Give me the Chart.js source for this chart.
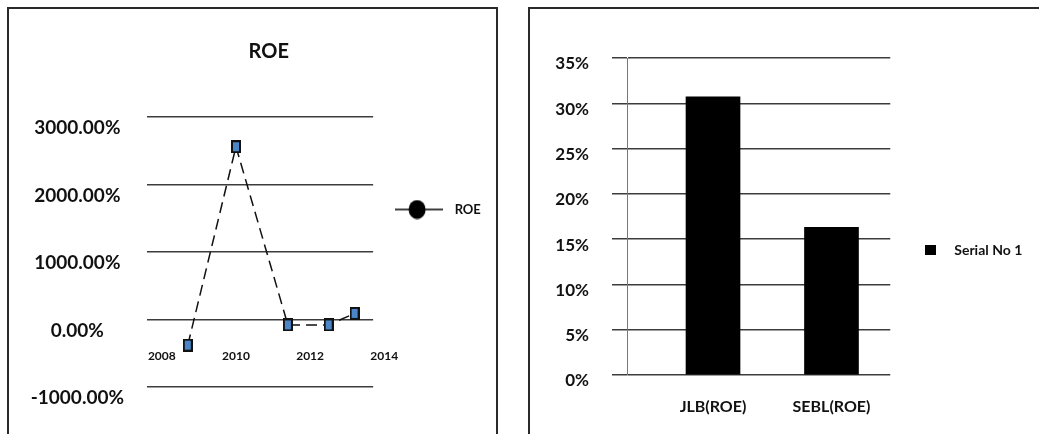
<!DOCTYPE html>
<html>
<head>
<meta charset="utf-8">
<script src="https://cdn.jsdelivr.net/npm/chart.js@4/dist/chart.umd.min.js"></script>
<style>
  html, body { margin: 0; padding: 0; background: #fff; }
  body { width: 1039px; height: 434px; overflow: hidden; position: relative; }
  .panel { position: absolute; border: 2px solid #2a2a2a; box-sizing: border-box; }
  #leftPanel { left: 7px; top: 7px; width: 491px; height: 450px; }
  #rightPanel { left: 528px; top: 7px; width: 530px; height: 450px; }
  canvas { position: absolute; }
  #roeLine { left: 8px; top: 8px; }
  #roeBar { left: 531px; top: 8px; }
</style>
</head>
<body>
<div id="leftPanel" class="panel"></div>
<div id="rightPanel" class="panel"></div>
<canvas id="roeLine" width="488" height="426"></canvas>
<canvas id="roeBar" width="506" height="434"></canvas>
<script>
// ---- left chart: ROE over the years (values in %) ----
const roeYears = [2008.7, 2010.0, 2011.4, 2012.5, 2013.2];
const roeValues = [-380, 2560, -80, -80, 90];
const yearTicks = [2008, 2010, 2012, 2014];

// ---- right chart: bank comparison (values in %) ----
const banks = ["JLB(ROE)", "SEBL(ROE)"];
const bankRoe = [30.7, 16.3];

Chart.defaults.font.family = "Lato, 'Open Sans', sans-serif";
Chart.defaults.font.weight = "bold";
Chart.defaults.color = "#111";

const gridColor = "#3c3c3c";

// little images used as point styles
function marker() {
    const c = document.createElement("canvas");
    c.width = 10; c.height = 13;
    const g = c.getContext("2d");
    g.fillStyle = "#111";
    g.fillRect(0, 0, 10, 13);
    g.fillStyle = "#4a86c8";
    g.fillRect(2, 2, 6, 9);
    return c;
}

function lineDot() {
    const c = document.createElement("canvas");
    c.width = 48; c.height = 20;
    const g = c.getContext("2d");
    g.strokeStyle = "#000";
    g.lineWidth = 1.5;
    g.beginPath();
    g.moveTo(0, 10); g.lineTo(48, 10);
    g.stroke();
    g.fillStyle = "#000";
    g.beginPath();
    g.ellipse(22, 10, 8.5, 9.5, 0, 0, Math.PI * 2);
    g.fill();
    return c;
}

function square() {
    const c = document.createElement("canvas");
    c.width = 11; c.height = 10;
    const g = c.getContext("2d");
    g.fillStyle = "#000";
    g.fillRect(0, 0, 11, 10);
    return c;
}

// y labels hang out left of the axis box and legend text got cut,
// so loosen both clip areas once layout is done
const looseClip = {
    id: "looseClip",
    afterLayout(chart) {
        chart.scales.y.left = 0;
        if (chart.legend) chart.legend.right = chart.width;
    }
};

// =========================
//  LINE CHART
// =========================
new Chart(document.getElementById("roeLine"), {
    type: "line",
    data: {
        datasets: [{
            label: "ROE",
            data: roeYears.map((y, i) => ({ x: y, y: roeValues[i] })),
            borderColor: "#111",
            borderWidth: 1.5,
            borderDash: [11, 6],
            tension: 0,
            pointStyle: marker(),
            pointRadius: 6,
            clip: false
        }]
    },
    plugins: [looseClip],
    options: {
        responsive: false,
        animation: false,
        layout: { padding: { left: 52, right: 18.5, top: 24, bottom: 47 } },
        plugins: {
            title: {
                display: true,
                text: "ROE",
                font: { size: 20, weight: "bold" },
                color: "#111",
                padding: { top: 8, bottom: 53 }
            },
            legend: {
                position: "right",
                labels: {
                    usePointStyle: true,
                    pointStyle: lineDot(),
                    pointStyleWidth: 58,
                    padding: 17,
                    font: { size: 13, weight: "bold" },
                    color: "#111"
                }
            },
            tooltip: { enabled: false }
        },
        scales: {
            x: {
                type: "linear",
                position: { y: 0 },
                min: 2007.6,
                max: 2013.7,
                afterBuildTicks: s => { s.ticks = yearTicks.map(v => ({ value: v })); },
                grid: { display: false, drawTicks: false },
                border: { display: false },
                ticks: {
                    autoSkip: false,
                    padding: 29,
                    font: { size: 12, weight: "bold" },
                    callback: v => String(v)
                }
            },
            y: {
                min: -1000,
                max: 3000,
                afterFit: s => { s.width = 87; },
                grid: { color: gridColor, lineWidth: 1.5, drawTicks: false },
                border: { display: false },
                ticks: {
                    stepSize: 1000,
                    crossAlign: "center",
                    padding: 23,
                    labelOffset: 11,
                    font: { size: 19, weight: "bold" },
                    callback: v => v.toFixed(2) + "%"
                }
            }
        }
    }
});

// =========================
//  BAR CHART
// =========================
new Chart(document.getElementById("roeBar"), {
    type: "bar",
    data: {
        datasets: [{
            label: "Serial No 1",
            data: banks.map((b, i) => ({ x: i, y: bankRoe[i] })),
            backgroundColor: "#000",
            barThickness: 54
        }]
    },
    plugins: [looseClip],
    options: {
        responsive: false,
        animation: false,
        layout: { padding: { left: 0, right: 27, top: 50, bottom: 0 } },
        plugins: {
            legend: {
                position: "right",
                labels: {
                    usePointStyle: true,
                    pointStyle: square(),
                    pointStyleWidth: 34,
                    padding: 23,
                    font: { size: 14, weight: "bold" },
                    color: "#111"
                }
            },
            tooltip: { enabled: false }
        },
        scales: {
            x: {
                type: "linear",
                offset: false,
                min: -0.726,
                max: 1.496,
                afterBuildTicks: s => { s.ticks = banks.map((b, i) => ({ value: i })); },
                afterFit: s => { s.height = 67; },
                grid: { display: false, drawTicks: false, offset: false },
                border: { display: false },
                ticks: {
                    autoSkip: false,
                    padding: 22,
                    font: { size: 16, weight: "bold" },
                    callback: v => banks[v]
                }
            },
            y: {
                min: 0,
                max: 35,
                afterFit: s => { s.width = 96; },
                grid: { color: gridColor, lineWidth: 1.5, tickLength: 15, tickColor: gridColor },
                border: { display: true, color: "#777", width: 1 },
                ticks: {
                    stepSize: 5,
                    padding: 23,
                    labelOffset: 6,
                    font: { size: 17, weight: "bold" },
                    callback: v => v + "%"
                }
            }
        }
    }
});
</script>
</body>
</html>
